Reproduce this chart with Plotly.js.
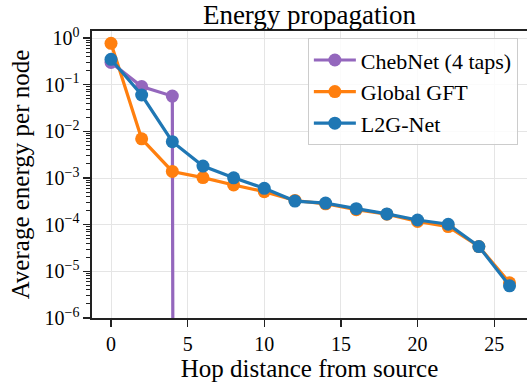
<!DOCTYPE html>
<html>
<head>
<meta charset="utf-8">
<script src="https://cdn.plot.ly/plotly-3.0.1.min.js"></script>
<style>html,body{margin:0;padding:0;background:#fff;}#chart{width:527px;height:385px;}</style>
</head>
<body>
<div id="chart"></div>
<script>
// Hop distance from source
var hops = [0, 2, 4, 6, 8, 10, 12, 14, 16, 18, 20, 22, 24, 26];
// Average energy per node
var chebnet = [0.30, 0.091, 0.057, 0, 0, 0, 0, 0, 0, 0, 0, 0, 0, 0];
var globalGFT = [0.77, 0.0069, 0.00138, 0.00102, 0.00071, 0.00051, 0.00033, 0.00028, 0.00021, 0.000167, 0.000117, 0.000091, 0.000034, 0.0000057];
var l2gNet = [0.35, 0.060, 0.0060, 0.0018, 0.00101, 0.00060, 0.00032, 0.00029, 0.00022, 0.00017, 0.000126, 0.000102, 0.000034, 0.0000049];
var seriesNames = ['ChebNet (4 taps)', 'Global GFT', 'L2G-Net'];
var seriesColors = ['#9467bd', '#ff7f0e', '#1f77b4'];
var yTickVals = [1, 0.1, 0.01, 0.001, 0.0001, 0.00001, 0.000001];
var yTickText = ['10<sup>0</sup>', '10<sup>\u22121</sup>', '10<sup>\u22122</sup>', '10<sup>\u22123</sup>', '10<sup>\u22124</sup>', '10<sup>\u22125</sup>', '10<sup>\u22126</sup>'];
var xTickVals = [0, 5, 10, 15, 20, 25];

// like matplotlib's log clipping: non-positive values fall far below the axis
function clipLog(arr) { return arr.map(function (v) { return v > 0 ? v : 1e-300; }); }

var FONT = '"Liberation Serif", serif';
var allSeries = [chebnet, globalGFT, l2gNet];
var traces = allSeries.map(function (s, i) {
  return {
    x: hops, y: clipLog(s), name: seriesNames[i], type: 'scatter', mode: 'lines+markers',
    line: {color: seriesColors[i], width: 3.2},
    marker: {color: seriesColors[i], size: 13}
  };
});

var layout = {
  width: 527, height: 385,
  margin: {l: 92, r: 0, t: 31, b: 67},
  paper_bgcolor: '#fff', plot_bgcolor: '#fff',
  font: {family: FONT, color: '#000', size: 20},
  title: {text: 'Energy propagation', font: {family: FONT, size: 27, color: '#000'},
          xref: 'paper', x: 0.5, xanchor: 'center', yref: 'container', y: 1 - 15 / 385, yanchor: 'middle'},
  showlegend: true,
  legend: {x: 0.979, xanchor: 'right', y: 0.975, yanchor: 'top',
           bgcolor: 'rgba(255,255,255,0.85)', bordercolor: '#cccccc', borderwidth: 1,
           itemwidth: 42,
           font: {family: FONT, size: 22, color: '#000'}, tracegroupgap: 0},
  xaxis: {
    range: [-1.24, 27.14], tickmode: 'array', tickvals: xTickVals,
    ticks: 'outside', ticklen: 7, tickwidth: 1.3, tickcolor: '#222',
    showline: true, linecolor: '#222', linewidth: 1.6, mirror: true,
    showgrid: true, gridcolor: '#e5e5e5', gridwidth: 1, zeroline: false,
    tickfont: {family: FONT, size: 20, color: '#000'},
    title: {text: 'Hop distance from source', font: {family: FONT, size: 25, color: '#000'}, standoff: 6}
  },
  yaxis: {
    type: 'log', range: [-6, 0.15], tickmode: 'array', tickvals: yTickVals, ticktext: yTickText,
    ticks: 'outside', ticklen: 7, tickwidth: 1.3, tickcolor: '#222',
    minor: {dtick: 'D1', ticks: 'outside', ticklen: 4, tickwidth: 1, tickcolor: '#222', showgrid: false},
    showline: true, linecolor: '#222', linewidth: 1.6,
    showgrid: true, gridcolor: '#e5e5e5', gridwidth: 1, zeroline: false,
    tickfont: {family: FONT, size: 20, color: '#000'},
    title: {text: 'Average energy per node', font: {family: FONT, size: 25, color: '#000'}, standoff: 8}
  }
};

Plotly.newPlot('chart', traces, layout, {displayModeBar: false, staticPlot: true});
</script>
</body>
</html>
